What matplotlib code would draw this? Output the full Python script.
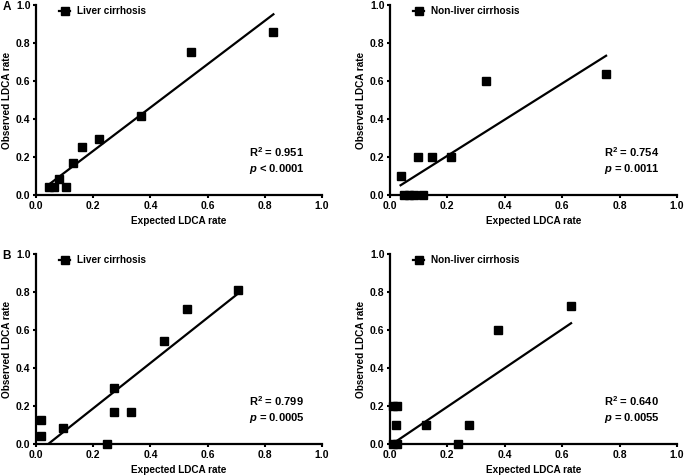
import numpy as np
import matplotlib
matplotlib.use("Agg")
import matplotlib.pyplot as plt
from matplotlib.lines import Line2D

plt.rcParams["font.family"] = ["Liberation Sans", "DejaVu Sans"]
plt.rcParams["font.weight"] = "bold"
plt.rcParams["mathtext.fontset"] = "custom"
plt.rcParams["mathtext.rm"] = "Liberation Sans:bold"
plt.rcParams["mathtext.it"] = "Liberation Sans:bold:italic"
plt.rcParams["mathtext.bf"] = "Liberation Sans:bold"

# -----------------------------
# Data
# -----------------------------
a_lc_x = [0.047, 0.063, 0.082, 0.105, 0.128, 0.161, 0.220, 0.366, 0.542, 0.830]
a_lc_y = [0.044, 0.044, 0.084, 0.044, 0.167, 0.253, 0.293, 0.418, 0.751, 0.858]

a_nlc_x = [0.037, 0.049, 0.066, 0.084, 0.115, 0.097, 0.145, 0.212, 0.333, 0.753]
a_nlc_y = [0.102, 0.0, 0.0, 0.0, 0.0, 0.200, 0.200, 0.200, 0.602, 0.637]

b_lc_x = [0.017, 0.017, 0.093, 0.247, 0.274, 0.274, 0.331, 0.448, 0.527, 0.707]
b_lc_y = [0.126, 0.042, 0.082, 0.0, 0.293, 0.167, 0.167, 0.542, 0.711, 0.811]

b_nlc_x = [0.012, 0.026, 0.021, 0.010, 0.023, 0.124, 0.238, 0.276, 0.377, 0.631]
b_nlc_y = [0.200, 0.200, 0.100, 0.0, 0.0, 0.100, 0.0, 0.100, 0.600, 0.726]

# linear regression (slope, intercept) as drawn in the figure
fit_a_lc = (1.141, 0.004)
fit_a_nlc = (0.952, 0.016)
fit_b_lc = (1.193, -0.051)
fit_b_nlc = (1.020, -0.008)

r2_values = ["0.951", "0.754", "0.799", "0.640"]
p_values = ["< 0.0001", "= 0.0011", "= 0.0005", "= 0.0055"]
group_labels = ["Liver cirrhosis", "Non-liver cirrhosis",
                "Liver cirrhosis", "Non-liver cirrhosis"]
panel_letters = ["A", None, "B", None]

xs_all = [a_lc_x, a_nlc_x, b_lc_x, b_nlc_x]
ys_all = [a_lc_y, a_nlc_y, b_lc_y, b_nlc_y]
fits = [fit_a_lc, fit_a_nlc, fit_b_lc, fit_b_nlc]

positions = [
    [0.0526, 0.5895, 0.4175, 0.400],
    [0.5693, 0.5895, 0.4190, 0.400],
    [0.0526, 0.0653, 0.4175, 0.400],
    [0.5693, 0.0653, 0.4190, 0.400],
]

fig = plt.figure(figsize=(6.85, 4.75), dpi=100)

for i in range(4):
    pos = positions[i]
    ax = fig.add_axes(pos)
    x = np.array(xs_all[i])
    y = np.array(ys_all[i])
    slope, intercept = fits[i]

    # regression line
    xs = np.linspace(x.min(), x.max(), 50)
    ax.plot(xs, slope * xs + intercept, color="black", lw=1.6, zorder=2)

    ax.plot(x, y, "s", color="black", markersize=5.5, zorder=3, clip_on=False)

    ax.set_xlim(0, 1.0)
    ax.set_ylim(0, 1.0)
    ax.set_xticks(np.arange(0, 1.01, 0.2))
    ax.set_yticks(np.arange(0, 1.01, 0.2))
    ax.xaxis.set_major_formatter(matplotlib.ticker.FormatStrFormatter("%.1f"))
    ax.yaxis.set_major_formatter(matplotlib.ticker.FormatStrFormatter("%.1f"))
    for s in ["top", "right"]:
        ax.spines[s].set_visible(False)
    for s in ["left", "bottom"]:
        ax.spines[s].set_linewidth(1.6)
    ax.tick_params(direction="out", length=2.5, width=1.5, labelsize=7.5, pad=1.5)
    for t in ax.get_xticklabels() + ax.get_yticklabels():
        t.set_fontweight("bold")

    ax.set_xlabel("Expected LDCA rate", fontsize=7.2, fontweight="bold", labelpad=4)
    ax.set_ylabel("Observed LDCA rate", fontsize=7.2, fontweight="bold", labelpad=3)

    handle = Line2D([], [], color="black", marker="s", markersize=5.5, lw=1.6)
    ax.legend([handle], [group_labels[i]], loc="upper left",
              bbox_to_anchor=(0.05, 1.04), frameon=False, handlelength=1.1,
              handletextpad=0.7, prop={"size": 7.2, "weight": "bold"})

    ax.text(0.745, 0.19, "R$^2$ = " + r2_values[i], transform=ax.transAxes,
            fontsize=8, fontweight="bold", va="bottom")
    ax.text(0.745, 0.10, "$\\it{p}$ " + p_values[i], transform=ax.transAxes,
            fontsize=8, fontweight="bold", va="bottom")

    if panel_letters[i]:
        fig.text(0.004, pos[1] + pos[3] - 0.005, panel_letters[i], fontsize=8.5,
                 fontweight="bold", va="center")

fig.savefig("out.png", dpi=100)
